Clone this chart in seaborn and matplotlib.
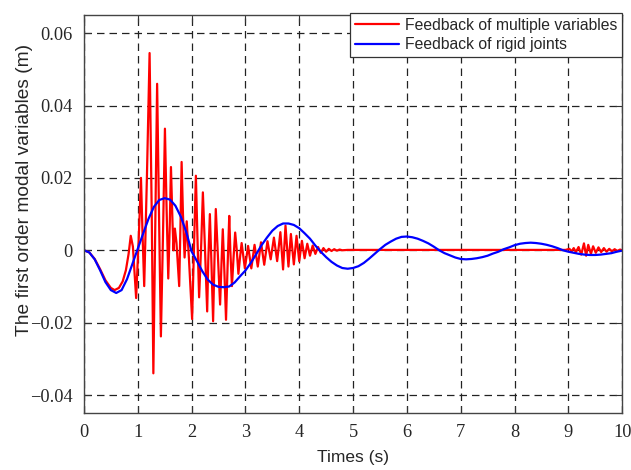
import numpy as np
import pandas as pd
import matplotlib
matplotlib.use("Agg")
import matplotlib.pyplot as plt
import seaborn as sns

# ---------------- data ----------------
blue_t = [round(0.1 * i, 1) for i in range(101)]
blue_y = [0.0, -0.0006, -0.0025, -0.0055, -0.0088, -0.0110, -0.0118, -0.0110, -0.0080, -0.0038,
          0.0004, 0.0046, 0.0087, 0.0120, 0.0139, 0.0144, 0.0140, 0.0123, 0.0093, 0.0051,
          -0.0003, -0.0030, -0.0058, -0.0081, -0.0095, -0.0101, -0.0102, -0.0100, -0.0089, -0.0072,
          -0.0056, -0.0035, -0.0011, 0.0014, 0.0035, 0.0054, 0.0067, 0.0074, 0.0074, 0.0070,
          0.0061, 0.0047, 0.0032, 0.0013, -0.0004, -0.0019, -0.0032, -0.0042, -0.0049, -0.0051,
          -0.0049, -0.0044, -0.0035, -0.0023, -0.0010, 0.0003, 0.0015, 0.0024, 0.0032, 0.0037,
          0.0038, 0.0036, 0.0032, 0.0026, 0.0019, 0.0010, 0.0000, -0.0008, -0.0014, -0.0020,
          -0.0024, -0.0025, -0.0024, -0.0022, -0.0019, -0.0015, -0.0009, -0.0004, 0.0003, 0.0008,
          0.0014, 0.0018, 0.0020, 0.0021, 0.0020, 0.0018, 0.0015, 0.0011, 0.0006, 0.0000,
          -0.0004, -0.0007, -0.0010, -0.0012, -0.0013, -0.0013, -0.0012, -0.0010, -0.0008, -0.0004,
          -0.0001]

red_t = [0.0, 0.1, 0.2, 0.3, 0.4, 0.5, 0.57, 0.65, 0.72, 0.78, 0.83, 0.87, 0.91, 0.97,
         1.02, 1.06, 1.09, 1.12, 1.17, 1.22, 1.26, 1.29, 1.325, 1.36, 1.395, 1.43, 1.47,
         1.505, 1.535, 1.567, 1.595, 1.617, 1.645, 1.665, 1.69, 1.72, 1.77, 1.795, 1.815,
         1.84, 1.87, 1.91, 1.95, 2.01, 2.045, 2.08, 2.11, 2.14, 2.18, 2.21, 2.25, 2.29,
         2.31, 2.34, 2.37, 2.40, 2.425, 2.45, 2.49, 2.53, 2.555, 2.58, 2.61, 2.64, 2.67,
         2.70, 2.72, 2.75, 2.78, 2.81, 2.84, 2.87, 2.90, 2.93, 2.99, 3.05, 3.11, 3.17,
         3.23, 3.29, 3.35, 3.41, 3.47, 3.53, 3.59, 3.65, 3.70, 3.745, 3.80, 3.845, 3.90,
         3.95, 4.00, 4.05, 4.10, 4.15, 4.20, 4.25, 4.30, 4.35, 4.40, 4.45, 4.50, 4.55,
         4.60, 4.65, 4.70, 4.75, 4.80, 4.90, 8.95, 9.02, 9.06, 9.10, 9.14, 9.19, 9.24,
         9.29, 9.33, 9.37, 9.42, 9.46, 9.51, 9.56, 9.61, 9.66, 9.71, 9.76, 9.81, 9.86,
         9.91, 9.96, 10.0]
red_y = [0.0, -0.0006, -0.0024, -0.0052, -0.0083, -0.0104, -0.0110, -0.0104, -0.0086, -0.0055,
         -0.0010, 0.0040, 0.0010, -0.0132,
         0.0040, 0.0200, 0.0040, -0.0099, 0.0200, 0.0545, 0.0100, -0.0340, 0.0050, 0.0460,
         0.0100, -0.0238, 0.0050,
         0.0336, 0.0120, -0.0078, 0.0070, 0.0230, 0.0080, 0.0000, 0.0060, 0.0020, -0.0099,
         0.0080, 0.0244,
         0.0100, -0.0020, 0.0080, -0.0020, -0.0190, 0.0010, 0.0206, 0.0030, -0.0130, 0.0020,
         0.0160, 0.0000, -0.0169,
         -0.0030, 0.0100, -0.0040, -0.0196, -0.0030, 0.0114, -0.0020, -0.0150, -0.0040, 0.0058,
         -0.0060, -0.0192, -0.0040,
         0.0095, 0.0000, -0.0099, -0.0020, 0.0049, 0.0000, -0.0065, -0.0020, 0.0020, -0.0050,
         0.0012, -0.0050, 0.0015,
         -0.0045, 0.0022, -0.0040, 0.0025, -0.0025, 0.0035, -0.0030, 0.0050, -0.0053, 0.0068,
         -0.0045, 0.0045, -0.0039,
         0.0040, -0.0030, 0.0026, -0.0022, 0.0018, -0.0015, 0.0013, -0.0010, 0.0009, -0.0007,
         0.0006, -0.0004, 0.0004,
         -0.0002, 0.0003, -0.0001, 0.0002, 0.0000, 0.0001, 0.0001, 0.0004, -0.0003, 0.0006,
         -0.0005, 0.0009, -0.0012,
         0.0019, -0.0015, 0.0015, -0.0010, 0.0011, -0.0007, 0.0008, -0.0005, 0.0006, -0.0004,
         0.0004, -0.0003, 0.0003,
         -0.0002, 0.0002, 0.0]

series_names = ["Feedback of multiple variables", "Feedback of rigid joints"]
series_colors = ["#ff0000", "#0000ff"]

x_ticks = [0, 1, 2, 3, 4, 5, 6, 7, 8, 9, 10]
x_ticklabels = ["0", "1", "2", "3", "4", "5", "6", "7", "8", "9", "10"]
y_ticks = [-0.04, -0.02, 0.0, 0.02, 0.04, 0.06]
y_ticklabels = ["\u22120.04", "\u22120.02", "0", "0.02", "0.04", "0.06"]

x_label = "Times (s)"
y_label = "The first order modal variables (m)"

# ---------------- figure ----------------
sns.set_style("white")
plt.rcParams["font.family"] = ["Liberation Sans", "DejaVu Sans"]

fig = plt.figure(figsize=(6.31, 4.70), dpi=100)
ax = fig.add_axes([0.133, 0.121, 0.853, 0.847])

red_df = pd.DataFrame({"t": red_t, "y": red_y})
blue_df = pd.DataFrame({"t": blue_t, "y": blue_y})

sns.lineplot(data=red_df, x="t", y="y", ax=ax, color=series_colors[0], linewidth=1.6,
             label=series_names[0], sort=False, estimator=None)
sns.lineplot(data=blue_df, x="t", y="y", ax=ax, color=series_colors[1], linewidth=1.6,
             label=series_names[1], sort=False, estimator=None)

ax.set_xlim(0, 10)
ax.set_ylim(-0.045, 0.065)
ax.set_xticks(x_ticks)
ax.set_xticklabels(x_ticklabels, fontfamily="Liberation Serif", fontsize=13.2)
ax.set_yticks(y_ticks)
ax.set_yticklabels(y_ticklabels, fontfamily="Liberation Serif", fontsize=13.2)

ax.tick_params(axis="both", direction="in", length=5, width=0.8, color="#333333",
               top=True, right=True, bottom=True, left=True, pad=8)

ax.grid(True, color="#222222", linestyle=(0, (6, 4)), linewidth=0.9)
ax.set_axisbelow(True)
for sp in ax.spines.values():
    sp.set_visible(True)
    sp.set_color("#444444")
    sp.set_linewidth(1.0)

ax.set_xlabel(x_label, fontsize=12.5, labelpad=6)
ax.set_ylabel(y_label, fontsize=13.8)
ax.yaxis.set_label_coords(-0.095, 0.56)

leg = ax.legend(loc="upper right", bbox_to_anchor=(1.0, 1.005), borderaxespad=0,
                fontsize=11.3, frameon=True, fancybox=False, handlelength=2.8,
                handletextpad=0.4, labelspacing=0.3, borderpad=0.3)
leg.get_frame().set_edgecolor("#333333")
leg.get_frame().set_linewidth(0.9)
leg.get_frame().set_alpha(1.0)

fig.savefig("out.png", dpi=100, facecolor="white")
